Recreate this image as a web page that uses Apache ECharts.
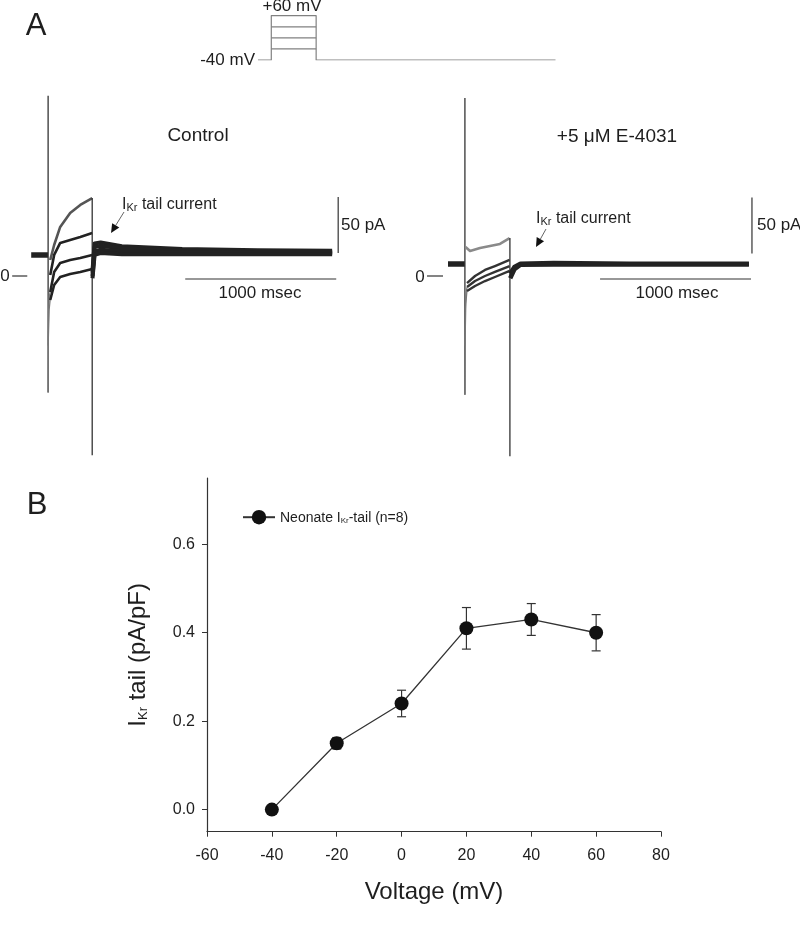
<!DOCTYPE html>
<html>
<head>
<meta charset="utf-8">
<script src="https://cdn.jsdelivr.net/npm/echarts@6/dist/echarts.min.js"></script>
<style>
html,body{margin:0;padding:0;background:#fff;}
#chart{width:800px;height:948px;}
</style>
</head>
<body>
<div id="chart"></div>
<script>
// ---------- Panel A: voltage protocol (ms, mV) ----------
const protocolTimes = [0, 88, 88, 385, 385, 1970];
const protocolVolts = [-40, -40, 60, 60, -40, -40];
const protocolStepLevels = [35, 10, -15];
const protocolStepSpan = [88, 385];

// ---------- Panel A: Control traces (ms, pA) ----------
const ctlBaseline = [[0, 18.75], [112, 18.75]];
const ctlOnsetSpike = [[112, 161], [112, -104]];
const ctlTransients = [
  [[112, -62], [115, -32], [120, -18], [126, -14]],
  [[112, -104], [114, -55], [119, -30], [126, -21]]
];
const ctlPulseTimes = [126, 152, 192, 258, 325, 404];
const ctlPulseTraces = [
  [14.3, 27.7, 43.8, 56.3, 63.4, 69.6],
  [0.9, 18.8, 29.5, 32.1, 34.8, 38.4],
  [-14.3, 3.6, 11.6, 14.3, 16.1, 18.8],
  [-21.4, -8.0, -0.9, 1.8, 3.6, 6.3]
];
const ctlEndSpike = [[404, 69.6], [404, -160]];
const ctlTailTimes = [406, 420, 460, 600, 1000, 1500, 1993];
const ctlTailTraces = [
  [5, 29, 30, 26.5, 24, 23, 22.5],
  [3, 26, 27, 24.5, 22.5, 22, 21.5],
  [0, 22, 23.5, 22, 21, 20.5, 20.5],
  [-2, 19, 20.5, 19.5, 19.5, 19.5, 19.5]
];
const ctlScaleV = [[2033, 70.5], [2033, 20.5]];
const ctlScaleH = [[1020, -2.7], [2020, -2.7]];
const ctlZeroTick = [[-126, 0], [-26, 0]];

// ---------- Panel A: +5 uM E-4031 traces (ms, pA) ----------
const e4Baseline = [[0, 10.7], [112, 10.7]];
const e4OnsetSpike = [[112, 159], [112, -106]];
const e4Transients = [
  [[112, -62], [115, -30], [120, -15], [126, -10]],
  [[112, -106], [114, -55], [118, -25], [126, -13]]
];
const e4TopTimes = [116, 146, 212, 278, 344, 408];
const e4TopTrace = [25.9, 22.3, 25.0, 26.8, 28.6, 33.9];
const e4PulseTimes = [126, 179, 245, 311, 408];
const e4PulseTraces = [
  [-6.3, 0.0, 5.4, 8.9, 14.3],
  [-9.8, -4.5, 0.0, 3.6, 8.9],
  [-13.4, -8.9, -4.5, -0.9, 4.5]
];
const e4EndSpike = [[410, 34], [410, -161]];
const e4TailTimes = [412, 440, 480, 700, 1200, 1993];
const e4TailTraces = [
  [2, 8, 11, 11.5, 11, 11],
  [-2, 6, 10, 10.3, 10.3, 10.3]
];
const e4ScaleV = [[2013, 70], [2013, 20]];
const e4ScaleH = [[1007, -2.7], [2007, -2.7]];
const e4ZeroTick = [[-139, 0], [-33, 0]];

// ---------- Panel B: IKr tail I-V ----------
const voltages = [-40, -20, 0, 20, 40, 60];
const ikrTail = [0.00, 0.15, 0.24, 0.41, 0.43, 0.40];
const ikrSem = [0.000, 0.013, 0.030, 0.047, 0.036, 0.041];
const xTicks = [-60, -40, -20, 0, 20, 40, 60, 80];
const yTicks = [0, 0.2, 0.4, 0.6];

const FONT = '"Liberation Sans", Arial, Helvetica, sans-serif';
const TXT = '#1e1e1e';
const TRACE = '#222';
const GREY = '#808080';

function zip(t, v) { return t.map((x, i) => [x, v[i]]); }
function ln(data, xi, yi, color, width, z) {
  return { type: 'line', xAxisIndex: xi, yAxisIndex: yi, data: data, showSymbol: false, symbol: 'none',
    silent: true, animation: false, z: z || 2,
    lineStyle: { color: color, width: width, cap: 'butt', join: 'round' } };
}

const series = [];
// protocol
series.push(ln(zip(protocolTimes, protocolVolts), 0, 0, GREY, 1.2));
protocolStepLevels.forEach(l => series.push(ln([[protocolStepSpan[0], l], [protocolStepSpan[1], l]], 0, 0, GREY, 1.2)));

// control
series.push(ln(ctlBaseline, 1, 1, TRACE, 5.5));
series.push(ln(ctlOnsetSpike, 1, 1, '#333', 1.3));
ctlTransients.forEach(d => series.push(ln(d, 1, 1, '#777', 1.2)));
ctlPulseTraces.forEach((v, i) => series.push(ln(zip(ctlPulseTimes, v), 1, 1, i === 0 ? '#555' : TRACE, 2.6)));
series.push(ln(ctlEndSpike, 1, 1, '#333', 1.3));
ctlTailTraces.forEach(v => series.push(ln(zip(ctlTailTimes, v), 1, 1, TRACE, 4)));
series.push(ln(ctlScaleV, 1, 1, '#333', 1.2));
series.push(ln(ctlScaleH, 1, 1, '#333', 1.2));
series.push(ln(ctlZeroTick, 1, 1, '#333', 1.2));

// E-4031
series.push(ln(e4Baseline, 2, 2, TRACE, 5.5));
series.push(ln(e4OnsetSpike, 2, 2, '#333', 1.3));
e4Transients.forEach(d => series.push(ln(d, 2, 2, '#777', 1.2)));
series.push(ln(zip(e4TopTimes, e4TopTrace), 2, 2, '#8a8a8a', 2.6));
e4PulseTraces.forEach(v => series.push(ln(zip(e4PulseTimes, v), 2, 2, '#333', 2.4)));
series.push(ln(e4EndSpike, 2, 2, '#333', 1.3));
e4TailTraces.forEach(v => series.push(ln(zip(e4TailTimes, v), 2, 2, TRACE, 4.5)));
series.push(ln(e4ScaleV, 2, 2, '#333', 1.2));
series.push(ln(e4ScaleH, 2, 2, '#333', 1.2));
series.push(ln(e4ZeroTick, 2, 2, '#333', 1.2));

// panel B error bars
series.push({
  type: 'custom', xAxisIndex: 3, yAxisIndex: 3, silent: true, animation: false, z: 3,
  data: voltages.map((v, i) => [v, ikrTail[i], ikrSem[i]]),
  encode: { x: 0, y: 1 },
  renderItem: function (params, api) {
    const x = api.value(0), y = api.value(1), e = api.value(2);
    if (!e) return null;
    const t = api.coord([x, y + e]), b = api.coord([x, y - e]);
    const w = 4.5, st = { stroke: '#333', lineWidth: 1.2 };
    return { type: 'group', children: [
      { type: 'line', shape: { x1: t[0], y1: t[1], x2: b[0], y2: b[1] }, style: st },
      { type: 'line', shape: { x1: t[0] - w, y1: t[1], x2: t[0] + w, y2: t[1] }, style: st },
      { type: 'line', shape: { x1: b[0] - w, y1: b[1], x2: b[0] + w, y2: b[1] }, style: st }
    ] };
  }
});
series.push({
  type: 'line', name: 'Neonate', xAxisIndex: 3, yAxisIndex: 3, animation: false, z: 4,
  data: zip(voltages, ikrTail),
  symbol: 'circle', symbolSize: 14,
  itemStyle: { color: '#111' },
  lineStyle: { color: '#333', width: 1.3 }
});

function hiddenAxis(idx, min, max) {
  return { type: 'value', gridIndex: idx, min: min, max: max, show: false };
}

function rtext(x, y, text, size, align, va, extra) {
  return Object.assign({ type: 'text', x: x, y: y, silent: true,
    style: { text: text, fontSize: size, fontFamily: FONT, fill: TXT, align: align || 'center', verticalAlign: va || 'middle' } }, extra || {});
}
function richText(x, y, text, size, sub, align) {
  return { type: 'text', x: x, y: y, silent: true,
    style: { text: text, align: align || 'left', verticalAlign: 'middle', fill: TXT,
      rich: { a: { fontSize: size, fontFamily: FONT, fill: TXT, verticalAlign: 'bottom', lineHeight: size + 2 },
              s: { fontSize: sub, fontFamily: FONT, fill: TXT, verticalAlign: 'bottom', lineHeight: size - 1 } } } };
}
function arrow(x1, y1, x2, y2) {
  const dx = x2 - x1, dy = y2 - y1, L = Math.hypot(dx, dy), ux = dx / L, uy = dy / L;
  const hl = 9, hw = 4.2;
  const bx = x2 - ux * hl, by = y2 - uy * hl;
  return [
    { type: 'line', silent: true, shape: { x1: x1, y1: y1, x2: bx, y2: by }, style: { stroke: '#666', lineWidth: 1 } },
    { type: 'polygon', silent: true, shape: { points: [[x2, y2], [bx - uy * hw, by + ux * hw], [bx + uy * hw, by - ux * hw]] }, style: { fill: '#111' } }
  ];
}

const option = {
  backgroundColor: '#ffffff',
  animation: false,
  textStyle: { fontFamily: FONT },
  grid: [
    { left: 258, top: 15.7, width: 297.5, height: 44.3 },
    { left: 1, top: 85.6, width: 347.3, height: 380.8 },
    { left: 417.8, top: 85.6, width: 347.3, height: 380.8 },
    { left: 207, top: 478, width: 454, height: 353.7 }
  ],
  xAxis: [
    hiddenAxis(0, 0, 1970),
    hiddenAxis(1, -200, 2100),
    hiddenAxis(2, -200, 2100),
    { type: 'value', gridIndex: 3, min: -60, max: 80, interval: 20,
      name: 'Voltage (mV)', nameLocation: 'middle', nameGap: 49,
      nameTextStyle: { fontSize: 24, fontFamily: FONT, color: TXT },
      axisLine: { show: true, onZero: false, lineStyle: { color: '#333', width: 1.2 } },
      axisTick: { show: true, length: 5, lineStyle: { color: '#333' } },
      axisLabel: { fontSize: 16, fontFamily: FONT, color: TXT, margin: 16 },
      splitLine: { show: false } }
  ],
  yAxis: [
    hiddenAxis(0, -40, 60),
    hiddenAxis(1, -170, 170),
    hiddenAxis(2, -170, 170),
    { type: 'value', gridIndex: 3, min: -0.05, max: 0.75,
      name: '{a|I}{s|Kr}{a| tail (pA/pF)}', nameLocation: 'middle', nameRotate: 90, nameGap: 57,
      nameTextStyle: { rich: {
        a: { fontSize: 24, fontFamily: FONT, color: TXT, verticalAlign: 'bottom', lineHeight: 26 },
        s: { fontSize: 13, fontFamily: FONT, color: TXT, verticalAlign: 'bottom', lineHeight: 22 } } },
      axisLine: { show: true, onZero: false, lineStyle: { color: '#333', width: 1.2 } },
      axisTick: { show: true, length: 5, customValues: yTicks, lineStyle: { color: '#333' } },
      axisLabel: { fontSize: 16, fontFamily: FONT, color: TXT, margin: 12, customValues: yTicks,
        formatter: v => Number(v).toFixed(1) },
      splitLine: { show: false } }
  ],
  legend: {
    show: true, left: 242, top: 510, padding: 0, itemWidth: 32, itemHeight: 18, itemGap: 10,
    data: ['Neonate'],
    formatter: () => '{a|Neonate I}{s|Kr}{a|-tail (n=8)}',
    textStyle: { rich: {
      a: { fontSize: 14, fontFamily: FONT, color: TXT, verticalAlign: 'bottom', lineHeight: 16 },
      s: { fontSize: 8, fontFamily: FONT, color: TXT, verticalAlign: 'bottom', lineHeight: 13 } } }
  },
  series: series,
  graphic: [
    rtext(36, 26, 'A', 31),
    rtext(37, 505, 'B', 31),
    rtext(292, 6, '+60 mV', 17),
    rtext(255, 60, '-40 mV', 17, 'right'),
    rtext(198, 136, 'Control', 19),
    rtext(617, 137, '+5 \u03bcM E-4031', 19),
    rtext(341, 225, '50 pA', 17, 'left'),
    rtext(757, 225, '50 pA', 17, 'left'),
    rtext(260, 293, '1000 msec', 17),
    rtext(677, 293, '1000 msec', 17),
    rtext(5, 276, '0', 17),
    rtext(420, 277, '0', 17),
    richText(122, 204, '{a|I}{s|Kr}{a| tail current}', 16, 11),
    richText(536, 218, '{a|I}{s|Kr}{a| tail current}', 16, 11)
  ].concat(arrow(124, 212, 111, 233)).concat(arrow(546, 229, 536, 247))
};

const chart = echarts.init(document.getElementById('chart'), null, { renderer: 'canvas', width: 800, height: 948 });
chart.setOption(option);
</script>
</body>
</html>
